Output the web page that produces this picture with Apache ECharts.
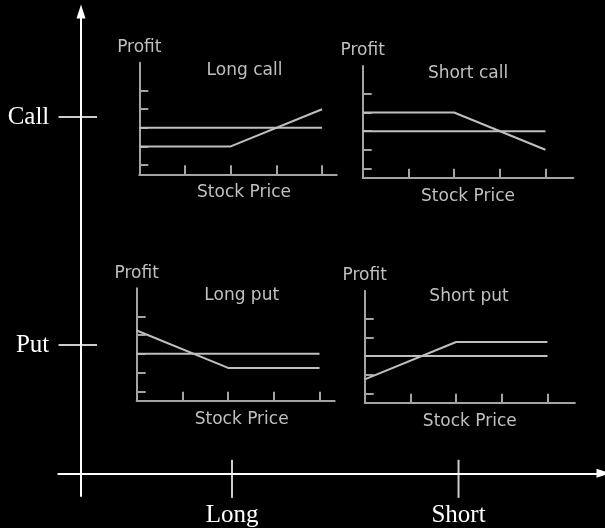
<!DOCTYPE html>
<html><head><meta charset="utf-8">
<script src="https://cdn.jsdelivr.net/npm/echarts@6/dist/echarts.min.js"></script>
<style>html,body{margin:0;padding:0;background:#000}#c{width:605px;height:528px}</style>
</head><body><div id="c"></div>
<script>
// ---- data ----
const mainXTicks = [2, 5];
const mainXLabels = ['Long', 'Short'];
const mainYTicks = [1.8, 5];
const mainYLabels = ['Put', 'Call'];

const stockPrice = [0, 2, 4];
const zeroProfit = [0, 0, 0];
const longCall = [-1, -1, 1];
const shortCall = [1, 1, -1];
const longPut = [1.25, -0.75, -0.75];
const shortPut = [-1.25, 0.75, 0.75];
const panelTitles = ['Long call', 'Short call', 'Long put', 'Short put'];
const profitTicks = [-2, -1, 0, 1, 2];
const priceTicks = [1, 2, 3, 4];
const xName = 'Stock Price';
const yName = 'Profit';

// ---- layout / style ----
const WHITE = '#ffffff';
const AX = '#a4a4a4';
const LN = '#bfbfbf';
const TX = '#c0c0c0';
const SANS = 'DejaVu Sans';
const SERIF = 'Liberation Serif';

const panels = [
  {left:139.3, top:62.7, width:197.4, height:111.6, xmax:4.32, values:longCall,  tx:244.5, ty:62,    pad:12},
  {left:362.7, top:66,   width:210.6, height:111.7, xmax:4.61, values:shortCall, tx:468,   ty:65.5,  pad:0},
  {left:136.7, top:288.3,width:197.9, height:112.4, xmax:4.33, values:longPut,   tx:241.7, ty:287,   pad:12},
  {left:364.7, top:290.7,width:210.2, height:112,   xmax:4.6,  values:shortPut,  tx:469,   ty:288.5, pad:0}
];

const grid = [{left:58.3, top:11.5, width:545.2, height:484.5, outerBoundsMode:'none', containLabel:false}];
const xAxis = [{
  type:'value', gridIndex:0, min:-0.3007, max:6.92,
  axisLine:{show:true, onZero:true, symbol:['none','triangle'], symbolSize:[9,14], lineStyle:{color:WHITE, width:2}},
  axisTick:{show:false}, splitLine:{show:false},
  axisLabel:{show:true, customValues:mainXTicks, margin:6.5,
    formatter:(v)=>mainXLabels[mainXTicks.indexOf(v)],
    color:WHITE, fontFamily:SERIF, fontSize:25}
}];
const yAxis = [{
  type:'value', gridIndex:0, min:-0.3186, max:6.48,
  axisLine:{show:true, onZero:true, symbol:['none','triangle'], symbolSize:[9,14], lineStyle:{color:WHITE, width:2}},
  axisTick:{show:false}, splitLine:{show:false},
  axisLabel:{show:true, customValues:mainYTicks, margin:9,
    formatter:(v)=>mainYLabels[mainYTicks.indexOf(v)],
    color:WHITE, fontFamily:SERIF, fontSize:25}
}];
const series = [
  {type:'scatter', xAxisIndex:0, yAxisIndex:0, silent:true, symbol:'rect', symbolSize:[2,38], symbolOffset:[0,5.5],
   itemStyle:{color:WHITE}, data: mainXTicks.map(v=>[v,0])},
  {type:'scatter', xAxisIndex:0, yAxisIndex:0, silent:true, symbol:'rect', symbolSize:[38.5,2], symbolOffset:[-3.2,0],
   itemStyle:{color:WHITE}, data: mainYTicks.map(v=>[0,v])}
];
const title = [];

panels.forEach((p, i) => {
  const gi = i + 1;
  grid.push({left:p.left, top:p.top, width:p.width, height:p.height, outerBoundsMode:'none', containLabel:false});
  xAxis.push({
    type:'value', gridIndex:gi, min:0, max:p.xmax,
    name:xName, nameLocation:'middle', nameGap:10,
    nameTextStyle:{color:TX, fontFamily:SANS, fontSize:17, padding:[0,0,0,p.pad]},
    axisLine:{show:true, onZero:false, lineStyle:{color:AX, width:2}},
    axisTick:{show:true, inside:true, length:9, customValues:priceTicks, lineStyle:{color:AX, width:2}},
    axisLabel:{show:false}, splitLine:{show:false}
  });
  yAxis.push({
    type:'value', gridIndex:gi, min:-2.5, max:3.5,
    name:yName, nameLocation:'end', nameGap:6.5,
    nameTextStyle:{color:TX, fontFamily:SANS, fontSize:17, align:'center'},
    axisLine:{show:true, onZero:false, lineStyle:{color:AX, width:2}},
    axisTick:{show:true, inside:true, length:9, customValues:profitTicks, lineStyle:{color:AX, width:2}},
    axisLabel:{show:false}, splitLine:{show:false}
  });
  series.push({
    type:'line', xAxisIndex:gi, yAxisIndex:gi, silent:true, showSymbol:false, symbol:'none',
    lineStyle:{color:LN, width:2}, data: stockPrice.map((x,k)=>[x, zeroProfit[k]])
  });
  series.push({
    type:'line', xAxisIndex:gi, yAxisIndex:gi, silent:true, showSymbol:false, symbol:'none',
    lineStyle:{color:LN, width:2}, data: stockPrice.map((x,k)=>[x, p.values[k]])
  });
  title.push({
    text:panelTitles[i], left:p.tx, top:p.ty, textAlign:'center', padding:0,
    textStyle:{color:TX, fontFamily:SANS, fontSize:17, fontWeight:'normal'}
  });
});

const chart = echarts.init(document.getElementById('c'), null, {renderer:'canvas'});
chart.setOption({
  backgroundColor:'#000000',
  animation:false,
  title, grid, xAxis, yAxis, series
});
</script>
</body></html>
